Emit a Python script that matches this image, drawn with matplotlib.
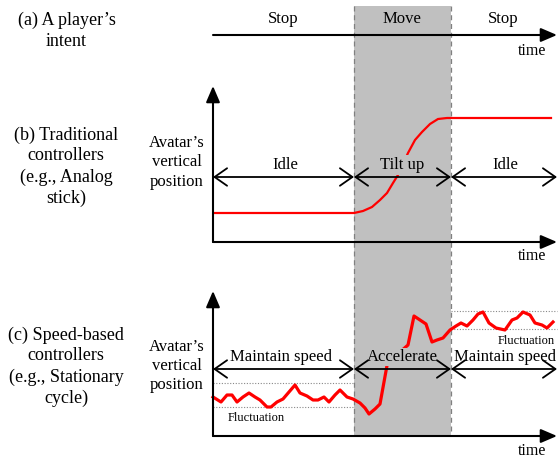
import matplotlib.pyplot as plt
from matplotlib.patches import FancyArrowPatch, Rectangle

plt.rcParams["font.family"] = ["Liberation Serif", "DejaVu Serif"]

# phase labels
intent_labels = ["Stop", "Move", "Stop"]
trad_labels = ["Idle", "Tilt up", "Idle"]
speed_labels = ["Maintain speed", "Accelerate", "Maintain speed"]

# (b) traditional controller curve (pixel units)
trad_t = [215, 354, 363, 372, 380, 387, 393, 398, 408, 415, 422, 430, 438, 447, 451, 551]
trad_y = [213, 213, 211, 207, 200, 193, 183, 175, 153, 140, 132, 124, 119, 118, 118, 118]

# (c) speed-based controller curve
speed_t = [213, 221, 227, 232, 237, 243, 249, 255, 260, 267, 271, 277, 283, 289,
           295, 300, 307, 313, 318, 324, 329, 335, 340, 347, 353, 360, 365, 369,
           375, 380, 388, 400, 408, 414, 420, 426, 432, 437, 443, 450, 456, 461,
           467, 473, 478, 483, 489, 496, 505, 512, 517, 523, 530, 535, 542, 547, 553]
speed_y = [397, 402, 395, 395, 402, 397, 393, 397, 400, 407, 407, 402, 399, 392,
           385, 393, 396, 400, 400, 397, 402, 395, 390, 397, 399, 403, 408, 414,
           409, 404, 360, 352, 345, 316, 320, 324, 342, 340, 338, 330, 326, 323,
           326, 320, 314, 312, 323, 328, 330, 320, 318, 312, 315, 323, 325, 328, 322]

x0, x1, x2, x_end = 213, 354, 451, 557
gray = "#c0c0c0"

fig = plt.figure(figsize=(5.58, 4.58), dpi=100)
ax = fig.add_axes([0, 0, 1, 1])
ax.set_xlim(0, 558)
ax.set_ylim(458, 0)
ax.axis("off")

# shaded "move" period
ax.add_patch(Rectangle((x1, 6), x2 - x1, 430, facecolor=gray, edgecolor="none", zorder=0))
for xv in (x1, x2):
    ax.plot([xv, xv], [6, 436], color="#808080", lw=0.9, ls=(0, (4, 3)), zorder=1)


def axis_arrow(xa, ya, xb, yb):
    ax.add_patch(FancyArrowPatch((xa, ya), (xb, yb),
                                 arrowstyle="-|>,head_length=0.7,head_width=0.3",
                                 mutation_scale=14, color="black", lw=1.5,
                                 shrinkA=0, shrinkB=0, zorder=6))


def span_arrow(xa, xb, y):
    ax.add_patch(FancyArrowPatch((xa, y), (xb, y),
                                 arrowstyle="<->,head_length=0.5,head_width=0.35",
                                 mutation_scale=18, color="black", lw=1.3,
                                 shrinkA=0, shrinkB=0, zorder=5))


bounds = [x0, x1, x2, x_end]
centers = [283, 402, 503]

# (a) intent
axis_arrow(x0, 35, x_end, 35)
for c, lab in zip(centers, intent_labels):
    ax.text(c, 19, lab, ha="center", va="center", fontsize=12)
ax.text(532, 51, "time", ha="center", va="center", fontsize=11.5)
ax.text(67, 20, "(a) A player\u2019s", ha="center", va="center", fontsize=13)
ax.text(66, 42, "intent", ha="center", va="center", fontsize=13)

# (b) traditional
axis_arrow(x0, 242, x0, 86)
axis_arrow(x0, 242, x_end, 242)
ax.text(532, 256, "time", ha="center", va="center", fontsize=11.5)
for i in range(3):
    span_arrow(bounds[i], bounds[i + 1], 177)
for c, lab in zip([285, 402, 505], trad_labels):
    ax.text(c, 165, lab, ha="center", va="center", fontsize=12, zorder=4,
            bbox=dict(facecolor=gray if lab == "Tilt up" else "none",
                      edgecolor="none", pad=1.5))
ax.plot(trad_t, trad_y, color="red", lw=1.6, zorder=3)
for j, line in enumerate(["(b) Traditional", "controllers", "(e.g., Analog", "stick)"]):
    ax.text(66, 135 + 21 * j, line, ha="center", va="center", fontsize=13)
for j, line in enumerate(["Avatar\u2019s", "vertical", "position"]):
    ax.text(177, 143 + 19.5 * j, line, ha="center", va="center", fontsize=12)

# (c) speed-based
axis_arrow(x0, 436, x0, 291)
axis_arrow(x0, 436, x_end, 436)
ax.text(532, 451, "time", ha="center", va="center", fontsize=11.5)
for i in range(3):
    span_arrow(bounds[i], bounds[i + 1], 369)
for c, lab in zip([281, 402, 505], speed_labels):
    ax.text(c, 357, lab, ha="center", va="center", fontsize=12, zorder=4,
            bbox=dict(facecolor=gray if lab == "Accelerate" else "none",
                      edgecolor="none", pad=1.0))
for yv in (383, 407):
    ax.plot([x0, x1], [yv, yv], color="#888888", lw=0.8, ls=(0, (1, 1.5)), zorder=1)
for yv in (311, 329):
    ax.plot([x2, x_end], [yv, yv], color="#888888", lw=0.8, ls=(0, (1, 1.5)), zorder=1)
ax.text(228, 418, "Fluctuation", ha="left", va="center", fontsize=9)
ax.text(498, 341, "Fluctuation", ha="left", va="center", fontsize=9)
ax.plot(speed_t, speed_y, color="red", lw=2.3, zorder=3)
for j, line in enumerate(["(c) Speed-based", "controllers", "(e.g., Stationary", "cycle)"]):
    ax.text(66, 335 + 21 * j, line, ha="center", va="center", fontsize=13)
for j, line in enumerate(["Avatar\u2019s", "vertical", "position"]):
    ax.text(177, 347 + 19 * j, line, ha="center", va="center", fontsize=12)

fig.savefig("out.png", dpi=100)
